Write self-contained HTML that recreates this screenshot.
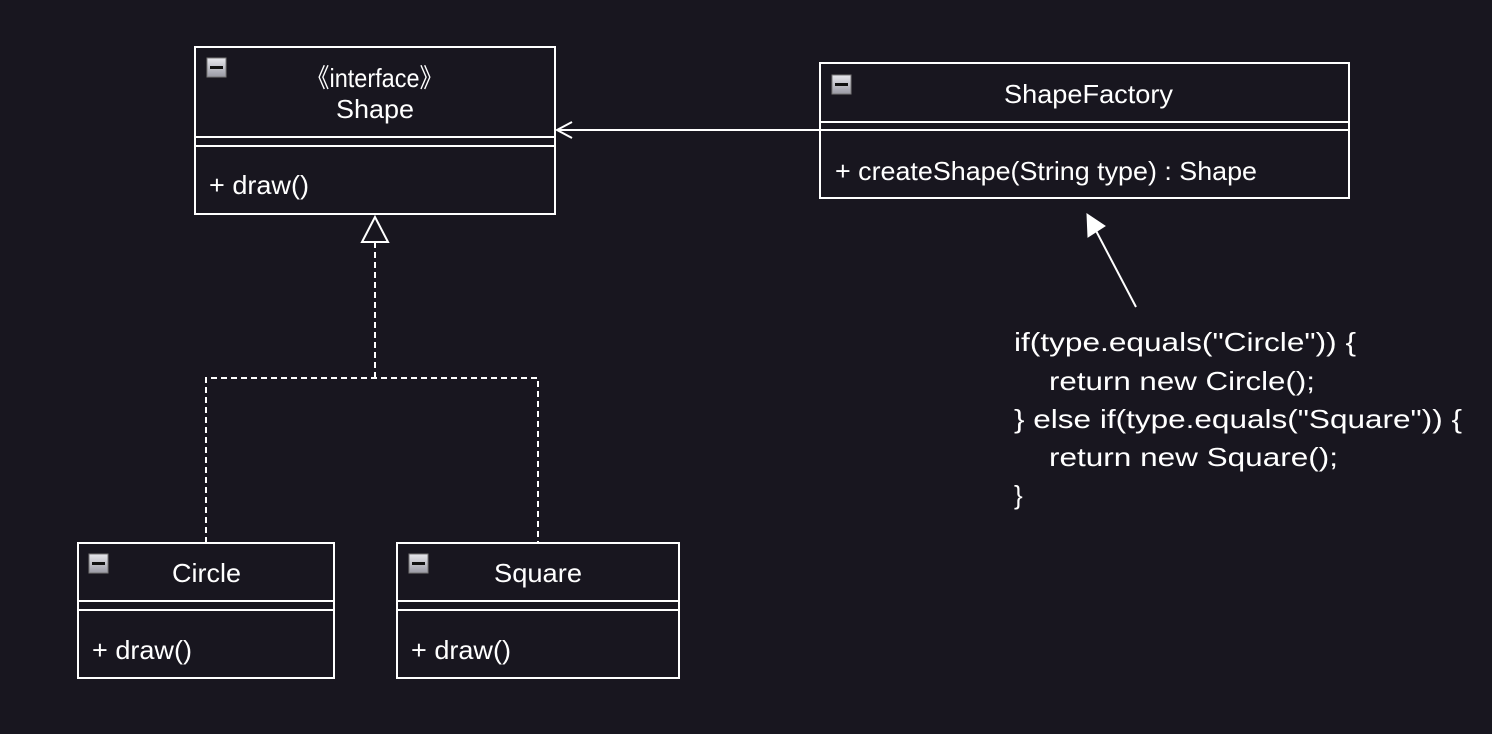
<!DOCTYPE html>
<html><head><style>
html,body{margin:0;padding:0;background:#18161f;}
svg{display:block;}
text{font-family:"Liberation Sans",Arial,sans-serif;fill:#fff;font-size:26px;}
</style></head><body>
<svg width="1492" height="734" viewBox="0 0 1492 734" xmlns="http://www.w3.org/2000/svg">
<defs>
<linearGradient id="g" x1="0" y1="0" x2="0" y2="1"><stop offset="0" stop-color="#e8e8ee"/><stop offset="1" stop-color="#9a9aa4"/></linearGradient>
<g id="mi"><rect x="0" y="0" width="19" height="19" fill="url(#g)" stroke="#777" stroke-width="1"/><rect x="3" y="8" width="13" height="3" fill="#111"/></g>
</defs>
<g fill="none" stroke="#fff" stroke-width="2">
<rect x="195" y="47" width="360" height="167"/>
<line x1="195" y1="137" x2="555" y2="137"/><line x1="195" y1="146" x2="555" y2="146"/>
<rect x="820" y="63" width="529" height="135"/>
<line x1="820" y1="122" x2="1349" y2="122"/><line x1="820" y1="130" x2="1349" y2="130"/>
<rect x="78" y="543" width="256" height="135"/>
<line x1="78" y1="601" x2="334" y2="601"/><line x1="78" y1="610" x2="334" y2="610"/>
<rect x="397" y="543" width="282" height="135"/>
<line x1="397" y1="601" x2="679" y2="601"/><line x1="397" y1="610" x2="679" y2="610"/>
<line x1="820" y1="130" x2="558" y2="130"/>
<polyline points="572,122 557,130 572,138"/>
<polygon points="375,217 362,242 388,242"/>
<g stroke-dasharray="6,4">
<line x1="375" y1="242" x2="375" y2="378"/>
<polyline points="206,543 206,378 538,378 538,543"/>
</g>
<line x1="1136" y1="307" x2="1093" y2="225"/>
</g>
<polygon points="1087,214 1088,237 1105,226" fill="#fff" stroke="#fff" stroke-width="1"/>
<use href="#mi" x="207" y="58"/>
<use href="#mi" x="832" y="75"/>
<use href="#mi" x="89" y="554"/>
<use href="#mi" x="409" y="554"/>
<text x="306" y="87" textLength="137" lengthAdjust="spacingAndGlyphs">《interface》</text>
<text x="336" y="118" textLength="78" lengthAdjust="spacingAndGlyphs">Shape</text>
<text x="209" y="194" textLength="100" lengthAdjust="spacingAndGlyphs">+ draw()</text>
<text x="1004" y="103" textLength="169" lengthAdjust="spacingAndGlyphs">ShapeFactory</text>
<text x="835" y="180" textLength="422" lengthAdjust="spacingAndGlyphs">+ createShape(String type) : Shape</text>
<text x="172" y="582" textLength="69" lengthAdjust="spacingAndGlyphs">Circle</text>
<text x="92" y="659" textLength="100" lengthAdjust="spacingAndGlyphs">+ draw()</text>
<text x="494" y="582" textLength="88" lengthAdjust="spacingAndGlyphs">Square</text>
<text x="411" y="659" textLength="100" lengthAdjust="spacingAndGlyphs">+ draw()</text>
<g style="font-size:27px">
<text x="1014" y="351" textLength="342" lengthAdjust="spacingAndGlyphs">if(type.equals("Circle")) {</text>
<text x="1049" y="390" textLength="266" lengthAdjust="spacingAndGlyphs">return new Circle();</text>
<text x="1014" y="428" textLength="448" lengthAdjust="spacingAndGlyphs">} else if(type.equals("Square")) {</text>
<text x="1049" y="466" textLength="289" lengthAdjust="spacingAndGlyphs">return new Square();</text>
<text x="1014" y="504">}</text>
</g>
</svg>
</body></html>
